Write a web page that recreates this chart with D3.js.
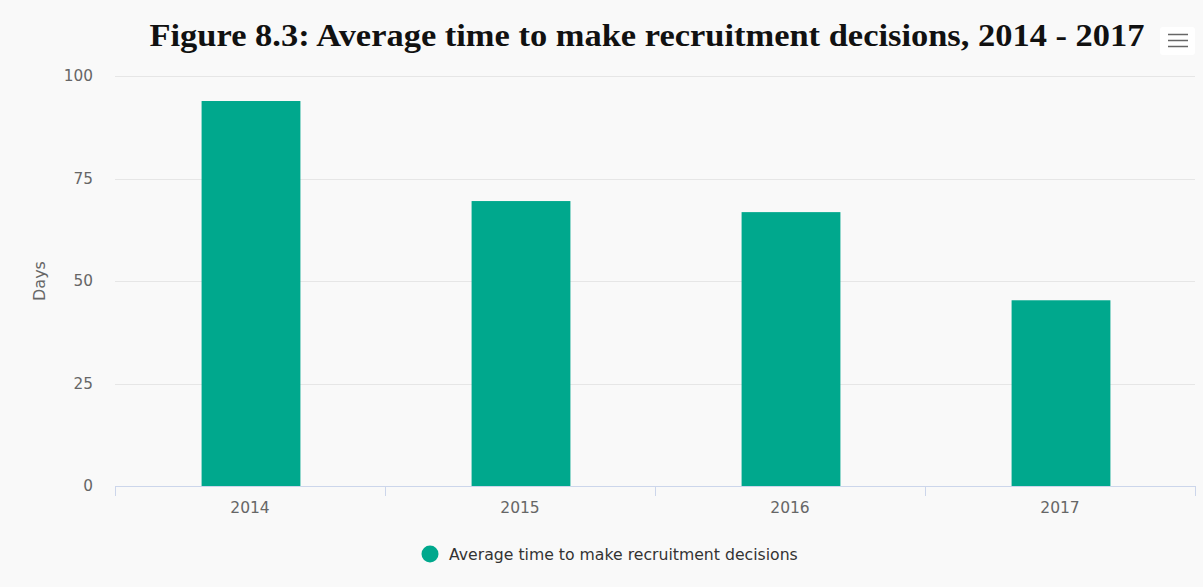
<!DOCTYPE html>
<html>
<head>
<meta charset="utf-8">
<script src="https://cdn.jsdelivr.net/npm/d3@7"></script>
<style>
  html, body { margin: 0; padding: 0; background: #f9f9f9; }
  svg { display: block; }
</style>
</head>
<body>
<svg id="chart" width="1203" height="587"></svg>
<script>
const categories = ["2014", "2015", "2016", "2017"];
const values = [93.9, 69.5, 66.8, 45.3];
const yTicks = [0, 25, 50, 75, 100];
const seriesName = "Average time to make recruitment decisions";
const titleText = "Figure 8.3: Average time to make recruitment decisions, 2014 - 2017";
const yTitle = "Days";

const W = 1203, H = 587;
const m = { left: 115, right: 1195, top: 76, bottom: 486 };
const color = "#00a88d";
const svg = d3.select("#chart");

svg.append("rect").attr("width", W).attr("height", H).attr("fill", "#f9f9f9");

const x = d3.scaleBand().domain(categories).range([m.left + 1, m.right + 1]).paddingInner(0.634).paddingOuter(0.317);
const xb = d3.scaleBand().domain(categories).range([m.left, m.right]);
const y = d3.scaleLinear().domain([0, 100]).range([m.bottom, m.top]);

// gridlines
svg.append("g").selectAll("line").data(yTicks.filter(d => d > 0)).join("line")
  .attr("x1", m.left).attr("x2", m.right)
  .attr("y1", d => Math.round(y(d)) + 0.5).attr("y2", d => Math.round(y(d)) + 0.5)
  .attr("stroke", "#e6e6e6").attr("stroke-width", 1);

// y labels
svg.append("g").selectAll("text").data(yTicks).join("text")
  .attr("x", 93).attr("y", d => y(d) + 5)
  .attr("text-anchor", "end")
  .attr("font-family", "DejaVu Sans, Verdana, sans-serif")
  .attr("font-size", 15.3).attr("fill", "#666")
  .text(d => d);

svg.append("text")
  .attr("transform", `translate(45, ${(m.top + m.bottom) / 2}) rotate(-90)`)
  .attr("text-anchor", "middle")
  .attr("font-family", "DejaVu Sans, Verdana, sans-serif")
  .attr("font-size", 16).attr("fill", "#666")
  .text(yTitle);

// bars
svg.append("g").selectAll("rect").data(values).join("rect")
  .attr("x", (d, i) => x(categories[i]))
  .attr("width", x.bandwidth())
  .attr("y", d => y(d))
  .attr("height", d => y(0) - y(d))
  .attr("fill", color);

// x axis
svg.append("line")
  .attr("x1", m.left).attr("x2", m.right)
  .attr("y1", m.bottom + 0.5).attr("y2", m.bottom + 0.5)
  .attr("stroke", "#ccd6eb");
const bounds = categories.map(c => xb(c)).concat([m.right]);
svg.append("g").selectAll("line").data(bounds).join("line")
  .attr("x1", d => Math.round(d) + 0.5).attr("x2", d => Math.round(d) + 0.5)
  .attr("y1", m.bottom).attr("y2", m.bottom + 10)
  .attr("stroke", "#ccd6eb");
svg.append("g").selectAll("text").data(categories).join("text")
  .attr("x", d => xb(d) + xb.bandwidth() / 2).attr("y", 513)
  .attr("text-anchor", "middle")
  .attr("font-family", "DejaVu Sans, Verdana, sans-serif")
  .attr("font-size", 15.5).attr("fill", "#666")
  .text(d => d);

// title
svg.append("text")
  .attr("x", 647).attr("y", 46)
  .attr("text-anchor", "middle")
  .attr("font-family", "Liberation Serif, DejaVu Serif, serif")
  .attr("font-weight", "bold")
  .attr("font-size", 31).attr("fill", "#111")
  .attr("textLength", 995).attr("lengthAdjust", "spacingAndGlyphs")
  .text(titleText);

// menu button
const mb = svg.append("g");
mb.append("rect").attr("x", 1160).attr("y", 27).attr("width", 35).attr("height", 28).attr("rx", 3).attr("fill", "#fff");
[34.5, 40.5, 46.5].forEach(yy => {
  mb.append("line").attr("x1", 1168).attr("x2", 1188).attr("y1", yy).attr("y2", yy)
    .attr("stroke", "#666").attr("stroke-width", 1.5);
});

// legend
svg.append("circle").attr("cx", 430).attr("cy", 554).attr("r", 8.5).attr("fill", color);
svg.append("text")
  .attr("x", 449).attr("y", 560)
  .attr("font-family", "DejaVu Sans, Verdana, sans-serif")
  .attr("font-size", 15.7).attr("fill", "#333")
  .text(seriesName);
</script>
</body>
</html>
